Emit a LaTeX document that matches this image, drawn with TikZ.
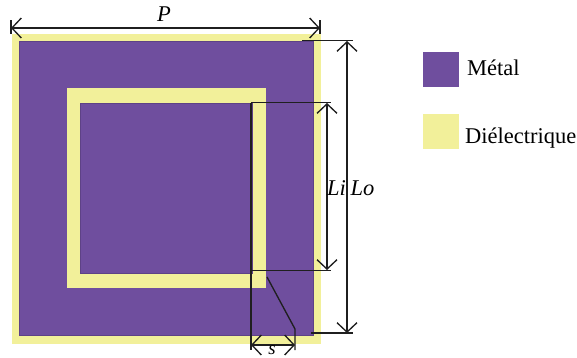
\documentclass[tikz,border=0pt]{standalone}
\usepackage{fontspec}
\setmainfont{Liberation Serif}
\usetikzlibrary{arrows.meta}
\definecolor{metal}{HTML}{6F4E9E}
\definecolor{dielec}{HTML}{F2F09A}
\tikzset{
  dim/.style={line width=1.15pt, black!88},
  dimarrow/.style={dim, {Straight Barb[length=8pt,width=17pt]}-{Straight Barb[length=8pt,width=17pt]}},
  swatch/.style={minimum width=1.08cm, minimum height=1.07cm, inner sep=0pt, outer sep=0pt},
  legend/.style={font=\fontsize{19.2}{23}\selectfont, inner sep=0pt, anchor=base west},
  dimlabel/.style={font=\fontsize{19.2}{23}\selectfont\itshape, inner sep=0pt, anchor=base}
}
\begin{document}
\begin{tikzpicture}[x=0.03cm, y=-0.03cm]
\useasboundingbox (0,0) rectangle (577,358);

\fill[dielec] (12,34) rectangle (321,344);
\filldraw[fill=metal, draw=metal!85!black, line width=0.4pt] (19,41) rectangle (313,335);
\fill[dielec] (67,88) rectangle (266,288);
\filldraw[fill=metal, draw=metal!85!black, line width=0.4pt] (80,103) rectangle (252,273);

\draw[dim] (11,20)--(11,34);
\draw[dim] (320,20)--(320,34);
\draw[dimarrow] (11,28)--(320,28);
\node[dimlabel] (lblp) at (164,21) {P};

\draw[dim] (302,40.5)--(353,40.5);
\draw[dim] (311,333)--(353,333);
\draw[dimarrow] (347,41)--(347,333);
\node[dimlabel] (lbllo) at (362.5,195) {Lo};

\draw[dim] (251,102.5)--(331,102.5);
\draw[dim] (251,270.5)--(331,270.5);
\draw[dimarrow] (327,103)--(327,270);
\node[dimlabel] (lblli) at (336.5,195) {Li};

\draw[dim] (251,102.5)--(251,350);
\draw[dim] (267,277)--(295,329)--(295,350);
\draw[dimarrow] (251,345)--(295,345);
\node[dimlabel, font=\fontsize{16}{19}\selectfont\itshape] (lbls) at (272,354.5) {s};

\node[swatch, fill=metal] (swmetal) at (441,69.5) {};
\node[swatch, fill=dielec] (swdielec) at (441,131.5) {};
\node[legend] (lblmetal) at (467,75) {Métal};
\node[legend] (lbldielec) at (465,143) {Diélectrique};
\end{tikzpicture}
\end{document}
